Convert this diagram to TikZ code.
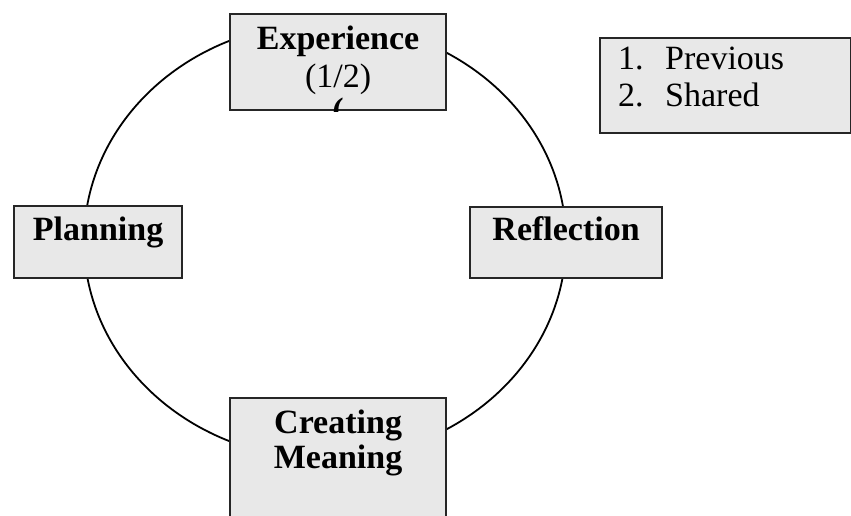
\documentclass[tikz,border=0pt]{standalone}
\usepackage{fontspec}
\setmainfont{Liberation Serif}
\usetikzlibrary{positioning}
\tikzstyle{stage}=[draw=black!85, line width=2.2pt, fill=black!9, inner sep=0pt, anchor=north west]
\tikzstyle{cycle}=[line width=1.8pt]
\tikzstyle{caption}=[inner sep=0pt, align=center, font=\fontsize{34}{35}\selectfont\bfseries]
\tikzstyle{entry}=[inner sep=0pt, align=left, anchor=north west, font=\fontsize{34}{37}\selectfont]

\begin{document}
\begin{tikzpicture}[x=1pt, y=-1pt]
          \clip (0,0) rectangle (851,516);
          \coordinate (centre) at (325,241);
          \draw[cycle] (centre) ellipse [x radius=241, y radius=218];
          \node[stage, minimum width=216, minimum height=96] (experience) at (229,13) {};
          \node[stage, minimum width=168, minimum height=72] (planning) at (13,205) {};
          \node[stage, minimum width=192, minimum height=71] (reflection) at (469,206) {};
          \node[stage, minimum width=216, minimum height=140] (meaning) at (229,397) {};
          \node[stage, minimum width=251, minimum height=95] (sources) at (599,37) {};
          \begin{scope}
            \clip (experience.south west) rectangle (experience.north east);
            \node[caption, font=\fontsize{34}{38}\selectfont\bfseries,
              below=13pt of experience.north] (experiencetext)
              {Experience\\{\mdseries(1/2)}\\[-4pt](};
          \end{scope}
          \node[caption, below=11.3pt of planning.north] (planningtext) {Planning};
          \node[caption, below=10.3pt of reflection.north] (reflectiontext) {Reflection};
          \node[caption, below=12.5pt of meaning.north] (meaningtext) {Creating\\Meaning};
          \node[entry] (sourcestext) at (618,47)
            {\makebox[47pt][l]{1.}Previous\\\makebox[47pt][l]{2.}Shared};
        \end{tikzpicture}
\end{document}
